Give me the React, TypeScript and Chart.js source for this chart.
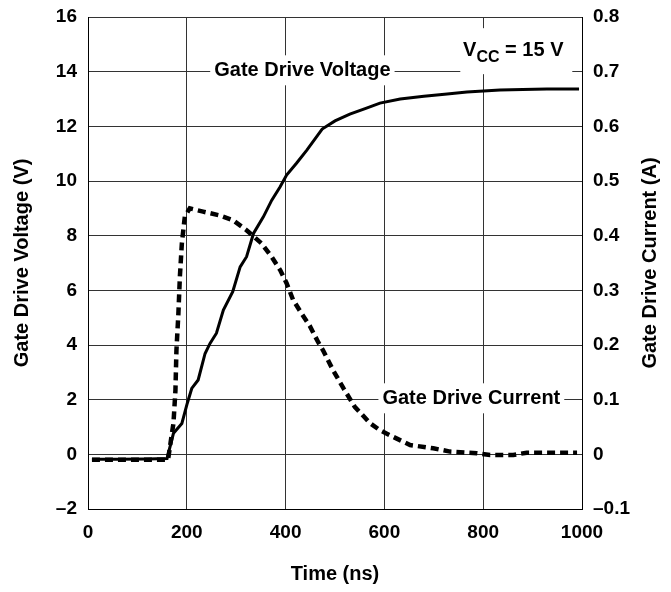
import React, { useEffect, useRef } from 'react';
import { Chart, registerables } from 'chart.js';

Chart.register(...registerables);

// ---- Data ----
const voltageTime = [8, 60, 120, 160, 173, 190, 201, 210, 223, 237, 247, 260, 274, 293, 308, 321, 335, 355, 372, 389, 402, 422, 443, 474, 500, 530, 561, 591, 632, 680, 727, 767, 834, 880, 929, 994];
const gateVoltage = [-0.18, -0.18, -0.17, -0.15, 0.77, 1.13, 1.87, 2.41, 2.72, 3.69, 4.06, 4.43, 5.28, 5.95, 6.86, 7.23, 8.08, 8.69, 9.3, 9.79, 10.22, 10.65, 11.13, 11.9, 12.2, 12.45, 12.65, 12.85, 13.0, 13.1, 13.18, 13.26, 13.33, 13.35, 13.37, 13.37];

const currentTime = [8, 60, 120, 162, 173, 177, 179, 183, 186, 190, 196, 206, 233, 267, 294, 321, 351, 372, 389, 402, 415, 432, 449, 466, 476, 496, 517, 540, 571, 591, 611, 652, 699, 733, 787, 814, 861, 888, 942, 990];
const gateCurrent = [-0.01, -0.01, -0.01, -0.01, 0.057, 0.117, 0.19, 0.258, 0.325, 0.386, 0.435, 0.45, 0.444, 0.437, 0.428, 0.41, 0.386, 0.361, 0.337, 0.313, 0.283, 0.258, 0.235, 0.205, 0.19, 0.154, 0.121, 0.087, 0.057, 0.044, 0.035, 0.017, 0.011, 0.005, 0.002, -0.001, -0.001, 0.003, 0.003, 0.003];

const timeTicks = [0, 200, 400, 600, 800, 1000];
const voltageTicks = [-2, 0, 2, 4, 6, 8, 10, 12, 14, 16];
const currentTicks = [-0.1, 0, 0.1, 0.2, 0.3, 0.4, 0.5, 0.6, 0.7, 0.8];

const xTitle = 'Time (ns)';
const leftTitle = 'Gate Drive Voltage (V)';
const rightTitle = 'Gate Drive Current (A)';

// Label anchors in data units (time ns, voltage V)
const voltageLabel = { text: 'Gate Drive Voltage', t: 434, v: 14.05 };
const currentLabel = { text: 'Gate Drive Current', t: 776, v: 2.05 };
const vccLabel = { t: 867, v: 14.75 };

const FONT = '"Liberation Sans", Arial, Helvetica, sans-serif';

function fmt(v: number, dec: number): string {
  const r = Number(v.toFixed(dec));
  if (r === 0) return '0';
  return r < 0 ? '\u2013' + Math.abs(r).toFixed(dec) : r.toFixed(dec);
}

const labelsPlugin = {
  id: 'gateLabels',
  beforeDatasetsDraw(chart: any) {
    const { ctx, scales } = chart;
    const x = scales.x;
    const y = scales.y;
    ctx.save();
    ctx.font = `bold 20px ${FONT}`;
    ctx.textBaseline = 'middle';
    ctx.textAlign = 'center';

    const box = (cx: number, cy: number, w: number, h: number) => {
      ctx.fillStyle = '#ffffff';
      ctx.fillRect(cx - w / 2, cy - h / 2, w, h);
    };

    // Gate Drive Voltage
    {
      const cx = x.getPixelForValue(voltageLabel.t);
      const cy = y.getPixelForValue(voltageLabel.v);
      const w = ctx.measureText(voltageLabel.text).width + 8;
      box(cx, cy, w, 30);
      ctx.fillStyle = '#000';
      ctx.fillText(voltageLabel.text, cx, cy);
    }
    // Gate Drive Current
    {
      const cx = x.getPixelForValue(currentLabel.t);
      const cy = y.getPixelForValue(currentLabel.v);
      const w = ctx.measureText(currentLabel.text).width + 8;
      box(cx, cy, w, 30);
      ctx.fillStyle = '#000';
      ctx.fillText(currentLabel.text, cx, cy);
    }
    // V_CC = 15 V
    {
      const cx = x.getPixelForValue(vccLabel.t);
      const cy = y.getPixelForValue(vccLabel.v);
      const mainFont = `bold 20px ${FONT}`;
      const subFont = `bold 16px ${FONT}`;
      ctx.font = mainFont;
      const wV = ctx.measureText('V').width;
      const wRest = ctx.measureText(' = 15 V').width;
      ctx.font = subFont;
      const wSub = ctx.measureText('CC').width;
      const total = wV + wSub + wRest;
      box(cx, cy, 112, 46);
      let px = cx - total / 2 - 3;
      ctx.textAlign = 'left';
      ctx.fillStyle = '#000';
      ctx.textBaseline = 'alphabetic';
      const base = cy + 5;
      ctx.font = mainFont;
      ctx.fillText('V', px, base);
      px += wV;
      ctx.font = subFont;
      ctx.fillText('CC', px, base + 6);
      px += wSub;
      ctx.font = mainFont;
      ctx.fillText(' = 15 V', px, base);
    }
    ctx.restore();
  },
  afterDraw(chart: any) {
    const { ctx, chartArea } = chart;
    ctx.save();
    ctx.font = `bold 20px ${FONT}`;
    ctx.fillStyle = '#000';
    ctx.textAlign = 'center';
    ctx.textBaseline = 'middle';
    ctx.translate(650, (chartArea.top + chartArea.bottom) / 2);
    ctx.rotate(-Math.PI / 2);
    ctx.fillText(rightTitle, 0, 0);
    ctx.restore();
  },
};

export default function App() {
  const canvasRef = useRef<HTMLCanvasElement | null>(null);

  useEffect(() => {
    const canvas = canvasRef.current;
    if (!canvas) return;
    const gridColor = '#333333';
    const tickFont = { family: FONT, size: 19, weight: 'bold' as const };
    const titleFont = { family: FONT, size: 20, weight: 'bold' as const };

    const chart = new Chart(canvas, {
      type: 'line',
      data: {
        datasets: [
          {
            label: 'Gate Drive Voltage',
            data: voltageTime.map((t, i) => ({ x: t, y: gateVoltage[i] })),
            yAxisID: 'y',
            borderColor: '#000',
            borderWidth: 3,
            pointRadius: 0,
            tension: 0,
            fill: false,
          },
          {
            label: 'Gate Drive Current',
            data: currentTime.map((t, i) => ({ x: t, y: gateCurrent[i] })),
            yAxisID: 'y1',
            borderColor: '#000',
            borderWidth: 4.5,
            borderDash: [8, 5],
            pointRadius: 0,
            tension: 0,
            fill: false,
          },
        ],
      },
      options: {
        responsive: false,
        animation: false,
        events: [],
        layout: { padding: { top: 17, left: 0, right: 0, bottom: 0 } },
        plugins: {
          legend: { display: false },
          tooltip: { enabled: false },
          title: { display: false },
        },
        scales: {
          x: {
            type: 'linear',
            min: 0,
            max: 1000,
            afterBuildTicks: (s: any) => {
              s.ticks = timeTicks.map((v) => ({ value: v }));
            },
            afterFit: (s: any) => {
              s.height = 83;
            },
            grid: { color: gridColor, lineWidth: 1, drawTicks: true, tickLength: 11, tickColor: 'rgba(0,0,0,0)' },
            border: { display: true, color: '#000', width: 1 },
            ticks: {
              color: '#000',
              font: tickFont,
              padding: 1,
              maxRotation: 0,
              autoSkip: false,
              callback: (v: any) => String(v),
            },
            title: {
              display: true,
              text: xTitle,
              color: '#000',
              font: titleFont,
              padding: { top: 0, bottom: 6 },
            },
          },
          y: {
            type: 'linear',
            position: 'left',
            min: -2,
            max: 16,
            afterBuildTicks: (s: any) => {
              s.ticks = voltageTicks.map((v) => ({ value: v }));
            },
            afterFit: (s: any) => {
              s.width = 88;
            },
            grid: { color: gridColor, lineWidth: 1, drawTicks: true, tickLength: 11, tickColor: 'rgba(0,0,0,0)' },
            border: { display: true, color: '#000', width: 1 },
            ticks: {
              color: '#000',
              font: tickFont,
              padding: 0,
              autoSkip: false,
              callback: (v: any) => fmt(Number(v), 0),
            },
            title: {
              display: true,
              text: leftTitle,
              color: '#000',
              font: titleFont,
              padding: { top: 10, bottom: 0 },
            },
          },
          y1: {
            type: 'linear',
            position: 'right',
            min: -0.1,
            max: 0.8,
            afterBuildTicks: (s: any) => {
              s.ticks = currentTicks.map((v) => ({ value: v }));
            },
            afterFit: (s: any) => {
              s.width = 89;
            },
            grid: { drawOnChartArea: false, drawTicks: true, tickLength: 11, tickColor: 'rgba(0,0,0,0)' },
            border: { display: true, color: '#000', width: 1 },
            ticks: {
              color: '#000',
              font: tickFont,
              padding: 0,
              autoSkip: false,
              callback: (v: any) => fmt(Number(v), 1).replace(/^0\.0$/, '0'),
            },
            title: { display: false },
          },
        },
      },
      plugins: [labelsPlugin],
    } as any);

    return () => {
      chart.destroy();
    };
  }, []);

  return (
    <canvas
      ref={canvasRef}
      width={671}
      height={592}
      style={{ position: 'absolute', left: 0, top: 0, width: 671, height: 592, background: '#fff' }}
    />
  );
}
